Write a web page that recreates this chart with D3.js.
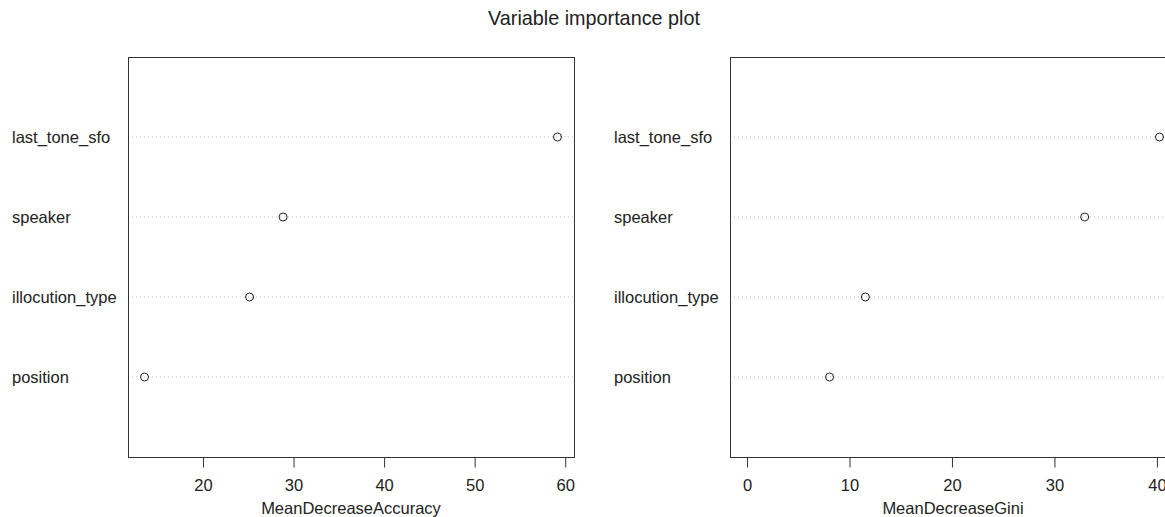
<!DOCTYPE html>
<html>
<head>
<meta charset="utf-8">
<script src="https://cdn.jsdelivr.net/npm/d3@7"></script>
<style>
  body { margin: 0; background: #fff; }
  svg { display: block; font-family: "Liberation Sans", Arial, sans-serif; }
</style>
</head>
<body>
<svg></svg>
<script>
const width = 1165;
const height = 517;

// variables, bottom row first (as R dotchart draws them)
const variables = ['position', 'illocution_type', 'speaker', 'last_tone_sfo'];
const accuracy = [13.6, 25.2, 28.9, 59.2];
const gini = [8.1, 11.6, 33.0, 40.3];

const svg = d3.select('svg')
  .attr('width', width)
  .attr('height', height);

svg.append('text')
  .attr('x', 594)
  .attr('y', 25)
  .attr('text-anchor', 'middle')
  .attr('font-size', '19.8px')
  .attr('fill', '#222')
  .text('Variable importance plot');

const plotTop = 57, plotBottom = 457, panelWidth = 446;

const y = d3.scaleLinear()
  .domain([0, variables.length + 1])
  .range([plotBottom, plotTop]);

function extend(lo, hi) {
  const r = hi - lo;
  return [lo - 0.04 * r, hi + 0.04 * r];
}

function drawPanel(left, labelX, values, lo, title) {
  const x = d3.scaleLinear()
    .domain(extend(lo, d3.max(values)))
    .range([left, left + panelWidth]);

  const g = svg.append('g');

  // dotted row lines
  g.selectAll('line.row')
    .data(variables)
    .enter().append('line')
      .attr('class', 'row')
      .attr('x1', left)
      .attr('x2', left + panelWidth)
      .attr('y1', (d, i) => y(i + 1))
      .attr('y2', (d, i) => y(i + 1))
      .attr('stroke', '#bbb')
      .attr('stroke-width', 1)
      .attr('stroke-dasharray', '1,3');

  g.selectAll('text.lab')
    .data(variables)
    .enter().append('text')
      .attr('class', 'lab')
      .attr('x', labelX)
      .attr('y', (d, i) => y(i + 1))
      .attr('dy', '0.35em')
      .attr('font-size', '16.5px')
      .attr('fill', '#222')
      .text(d => d);

  g.selectAll('circle')
    .data(values)
    .enter().append('circle')
      .attr('cx', d => x(d))
      .attr('cy', (d, i) => y(i + 1))
      .attr('r', 4)
      .attr('fill', 'none')
      .attr('stroke', '#222')
      .attr('stroke-width', 1);

  g.append('rect')
    .attr('x', left + 0.5)
    .attr('y', plotTop + 0.5)
    .attr('width', panelWidth)
    .attr('height', plotBottom - plotTop)
    .attr('fill', 'none')
    .attr('stroke', '#333')
    .attr('stroke-width', 1);

  const axis = g.append('g')
    .attr('transform', `translate(0.5,${plotBottom + 0.5})`)
    .call(d3.axisBottom(x).ticks(5).tickSizeOuter(0).tickSize(10).tickPadding(12));
  axis.select('.domain').remove();
  axis.selectAll('.tick line').attr('stroke', '#333');
  axis.selectAll('.tick text')
    .attr('font-size', '16.5px')
    .attr('font-family', '"Liberation Sans", Arial, sans-serif')
    .attr('fill', '#222');

  g.append('text')
    .attr('x', left + panelWidth / 2)
    .attr('y', 514)
    .attr('text-anchor', 'middle')
    .attr('font-size', '16.5px')
    .attr('fill', '#222')
    .text(title);
}

drawPanel(128, 12, accuracy, d3.min(accuracy), 'MeanDecreaseAccuracy');
drawPanel(730, 614, gini, 0, 'MeanDecreaseGini');
</script>
</body>
</html>
